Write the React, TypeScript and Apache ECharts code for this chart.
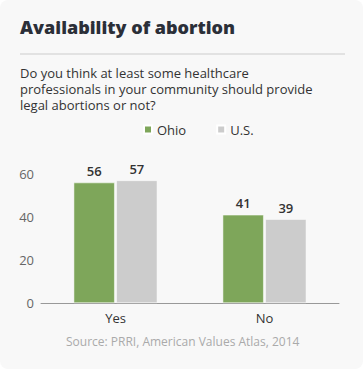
import React, { useEffect, useRef } from "react";
import * as echarts from "echarts";

const categories = ["Yes", "No"];
const ohioValues = [56, 41];
const usValues = [57, 39];
const seriesNames = ["Ohio", "U.S."];
const yTicks = { min: 0, max: 60, interval: 20 };

const titleText = "Availability of abortion";
const subtitleLines = [
  "Do you think at least some healthcare",
  "professionals in your community should provide",
  "legal abortions or not?",
];
const sourceText = "Source: PRRI, American Values Atlas, 2014";

const FONT = "'Open Sans', 'Noto Sans', sans-serif";

export default function App() {
  const ref = useRef<HTMLDivElement>(null);
  useEffect(() => {
    document.body.style.margin = "0";
    const chart = echarts.init(ref.current!, null, { renderer: "svg" });
    const label = {
      show: true,
      position: "top",
      distance: 5,
      color: "#333",
      fontSize: 13,
      fontWeight: 600,
      fontFamily: FONT,
    };
    chart.setOption({
      animation: false,
      backgroundColor: "transparent",
      textStyle: { fontFamily: FONT },
      grid: { left: 41, right: 24, top: 174, bottom: 66, containLabel: false },
      legend: {
        left: 143,
        top: 123,
        padding: 0,
        itemWidth: 8,
        itemHeight: 8,
        itemGap: 30,
        icon: "rect",
        textStyle: { color: "#333", fontSize: 13, fontFamily: FONT },
        data: seriesNames,
      },
      xAxis: {
        type: "category",
        data: categories,
        axisLine: { lineStyle: { color: "#999", width: 1 } },
        axisTick: { show: false },
        axisLabel: { color: "#333", fontSize: 13, fontFamily: FONT, margin: 8 },
      },
      yAxis: {
        type: "value",
        min: yTicks.min,
        max: yTicks.max,
        interval: yTicks.interval,
        splitLine: { show: false },
        axisLine: { show: false },
        axisTick: { show: false },
        axisLabel: { color: "#666", fontSize: 13, fontFamily: FONT, margin: 7 },
      },
      series: [
        {
          name: seriesNames[0],
          type: "bar",
          data: ohioValues,
          barWidth: 41,
          barGap: "4%",
          itemStyle: { color: "#7ea65a", borderColor: "#ffffff", borderWidth: 0.5 },
          label,
        },
        {
          name: seriesNames[1],
          type: "bar",
          data: usValues,
          barWidth: 41,
          barGap: "4%",
          itemStyle: { color: "#cccccc", borderColor: "#ffffff", borderWidth: 0.5 },
          label,
        },
      ],
      graphic: [
        {
          type: "text",
          left: 20,
          top: 18,
          style: {
            text: titleText,
            fill: "#2b2f38",
            font: `800 18px ${FONT}`,
          },
        },
        {
          type: "line",
          shape: { x1: 20, y1: 54, x2: 345, y2: 54 },
          style: { stroke: "#cccccc", lineWidth: 1 },
        },
        ...subtitleLines.map((t, i) => ({
          type: "text",
          left: 20,
          top: 66 + i * 16.3,
          style: { text: t, fill: "#333", font: `13px ${FONT}` },
        })),
        {
          type: "text",
          left: 66,
          top: 335,
          style: { text: sourceText, fill: "#aaaaaa", font: `12px ${FONT}` },
        },
      ],
    });
    return () => chart.dispose();
  }, []);
  return (
    <div style={{ position: "absolute", left: 0, top: 0, width: 363, height: 369, background: "#ffffff" }}>
      <div
        ref={ref}
        style={{ width: 363, height: 369, background: "#f8f8f8", borderRadius: 8 }}
      />
    </div>
  );
}
